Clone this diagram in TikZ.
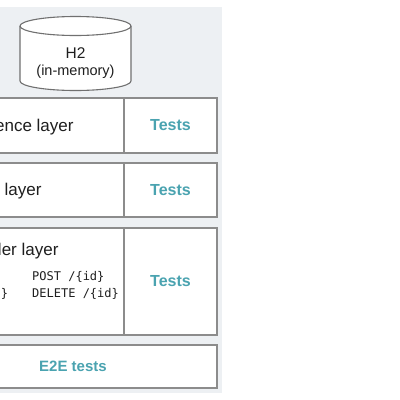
\documentclass[tikz,border=0pt]{standalone}
\usepackage{fontspec}
\setmainfont{Liberation Sans}
\setmonofont{DejaVu Sans Mono}
\definecolor{panelgrey}{HTML}{EDF0F3}
\definecolor{edgegrey}{HTML}{8C8C8C}
\definecolor{testteal}{HTML}{4AA3B0}
\tikzset{
  layerbox/.style={draw=edgegrey, line width=1.2pt, fill=white, inner sep=0pt, outer sep=0pt},
  cylline/.style={draw=edgegrey!80!black, line width=1.1pt, fill=white},
  lbl/.style={font=\fontsize{17}{20}\selectfont, text=black!88, inner sep=0pt, anchor=base west},
  teststxt/.style={font=\fontsize{16}{19}\selectfont\bfseries, text=testteal, inner sep=0pt},
  monotxt/.style={font=\fontsize{12}{17}\selectfont\ttfamily, text=black!88, inner sep=0pt, anchor=base west},
  dbtxt/.style={inner sep=0pt, anchor=base, text=black!88}
}
\begin{document}
\begin{tikzpicture}[x=1pt,y=-1pt]
\useasboundingbox (0,0) rectangle (400,400);
\clip (0,0) rectangle (400,400);
% panel
\fill[panelgrey] (-76,7) rectangle (222,393);
% database cylinder
\coordinate (dbtop) at (75.5,26);
\draw[cylline] (20,26) -- (20,81) arc[start angle=180, end angle=0, x radius=55.5, y radius=9.5] -- (131,26);
\draw[cylline] (dbtop) ellipse[x radius=55.5, y radius=9.5];
\node[dbtxt, font=\fontsize{15.5}{18}\selectfont] (dbname) at (75.5,58) {H2};
\node[dbtxt, font=\fontsize{14.5}{17}\selectfont] (dbnote) at (75.5,75) {(in-memory)};
% layers
\node[layerbox, minimum width=195, minimum height=55] (pers) at (26.5,125.5) {};
\node[layerbox, minimum width=93, minimum height=55] (perstest) at (170.5,125.5) {};
\node[layerbox, minimum width=195, minimum height=54] (serv) at (26.5,190) {};
\node[layerbox, minimum width=93, minimum height=54] (servtest) at (170.5,190) {};
\node[layerbox, minimum width=195, minimum height=107] (ctrl) at (26.5,281.5) {};
\node[layerbox, minimum width=93, minimum height=107] (ctrltest) at (170.5,281.5) {};
\node[layerbox, minimum width=288, minimum height=43] (e2e) at (73,366.5) {};
% texts
\node[lbl] (perslbl) at (-57,131) {Persistence layer};
\node[lbl] (servlbl) at (-57,195.5) {Service layer};
\node[lbl] (ctrllbl) at (-57,255) {Controller layer};
\node[monotxt] (get1) at (-57,280.5) {GET /};
\node[monotxt] (get2) at (-57,297.5) {PUT /\{id\}};
\node[monotxt] (post) at (32,280.5) {POST /\{id\}};
\node[monotxt] (delete) at (32,297.5) {DELETE /\{id\}};
\node[teststxt] (t1) at (perstest.center) {Tests};
\node[teststxt] (t2) at (servtest.center) {Tests};
\node[teststxt] (t3) at (ctrltest.center) {Tests};
\node[teststxt, font=\fontsize{15}{18}\selectfont\bfseries] (t4) at (e2e.center) {E2E tests};
\end{tikzpicture}
\end{document}
